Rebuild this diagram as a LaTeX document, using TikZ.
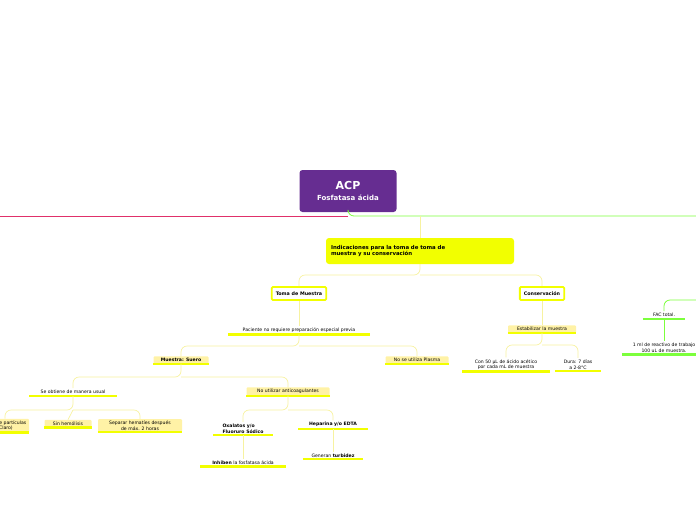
\documentclass[tikz,border=0pt]{standalone}
\usepackage{fontspec}
\setmainfont{DejaVu Sans}
\usetikzlibrary{positioning, calc}
\definecolor{rootpurple}{HTML}{662D91}
\definecolor{hiyellow}{HTML}{F2FF00}
\definecolor{paleyellow}{HTML}{FFF2A6}
\definecolor{linkyellow}{HTML}{F7F2A0}
\definecolor{linkgreen}{HTML}{7CFF3C}
\definecolor{linkred}{HTML}{E0306A}

\begin{document}
\begin{tikzpicture}[x=1pt, y=-1pt]
    % --- Style Definitions ---
    \tikzset{
        small text/.style={font=\fontsize{4.6}{5.6}\selectfont, align=center, inner sep=1.8pt},
        bold text/.style={font=\fontsize{4.6}{5.6}\selectfont\bfseries},
        under line/.style={
            small text,
            append after command={
                (\tikzlastnode.south west) edge[draw=#1, line width=2.4pt] (\tikzlastnode.south east)
            }
        },
        under line/.default=hiyellow,
        topic box/.style={small text, fill=paleyellow, rounded corners=1pt},
        main box/.style={small text, font=\fontsize{4.8}{5.8}\selectfont\bfseries,
            draw=hiyellow, line width=1.8pt, fill=white, rounded corners=1pt,
            minimum height=13pt, inner xsep=4pt},
        link/.style={draw=linkyellow, line width=0.7pt, rounded corners=6pt},
        green link/.style={draw=linkgreen, line width=0.8pt, rounded corners=6pt}
    }
    \useasboundingbox (0,0) rectangle (696,520);

    % ==========================================
    % ROOT
    % ==========================================
    \node[fill=rootpurple, rounded corners=3pt, minimum width=97pt, minimum height=42pt,
          text=white, align=center, font=\bfseries] (acp) at (348,191)
          {{\fontsize{11}{13}\selectfont ACP}\\[-1pt]{\fontsize{7}{9}\selectfont Fosfatasa ácida}};
    \coordinate (hub) at (348,216);
    \draw[linkred, line width=0.8pt] (hub) -- (0,216);
    \draw[green link] (acp.south) -- (hub) -- (696,216);

    % 1. Indicaciones
    \node[fill=hiyellow, rounded corners=3pt, minimum width=188pt, minimum height=26pt,
          text width=178pt, align=left, font=\fontsize{5.4}{6.4}\selectfont\bfseries]
          (indic) at (420,251) {Indicaciones para la toma de toma de\\muestra y su conservación};
    \draw[link] (420,216) -- (indic.north);

    % 2. Toma / Conservacion
    \node[main box] (toma) at (299,293.5) {Toma de Muestra};
    \node[main box] (cons) at (542,293.5) {Conservación};
    \draw[link] (indic.south) -- (420,275) -| (toma.north);
    \draw[link] (420,275) -| (cons.north);

    % 3. Toma de muestra branch
    \node[under line, minimum width=142pt] (paciente) at (299,330) {Paciente no requiere preparación especial previa};
    \draw[link] (toma.south) -- (paciente.north);

    \node[topic box, under line, bold text, minimum width=55pt] (suero) at (181,360) {Muestra: Suero};
    \node[topic box, under line, minimum width=63pt] (plasma) at (417,360) {No se utiliza Plasma};
    \draw[link] (paciente.south) -- (299,346) -| (suero.north);
    \draw[link] (299,346) -| (plasma.north);

    \node[under line, minimum width=87pt] (usual) at (73,392) {Se obtiene de manera usual};
    \node[topic box, under line, minimum width=83pt] (anticoag) at (288,391.5) {No utilizar anticoagulantes};
    \draw[link] (suero.south) -- (181,377) -| (usual.north);
    \draw[link] (181,377) -| (anticoag.north);

    \node[topic box, under line, minimum width=48pt] (claro) at (5,425.5) {Libre de partículas\\(Claro)};
    \node[topic box, under line, minimum width=47pt] (hemolisis) at (68,423.5) {Sin hemólisis};
    \node[topic box, under line, minimum width=84pt] (separar) at (140,425.5) {Separar hematíes después\\de máx. 2 horas};
    \draw[link] (usual.south) -- (73,410) -| (claro.north);
    \draw[link] (73,410) -- (hemolisis.north);
    \draw[link] (73,410) -| (separar.north);

    \node[under line, bold text, minimum width=59pt, align=left] (oxalatos) at (243,428.5) {Oxalatos y/o\\Fluoruro Sódico};
    \node[under line, bold text, minimum width=69pt] (heparina) at (333,424.5) {Heparina y/o EDTA};
    \draw[link] (anticoag.south) -- (288,410) -| (oxalatos.north);
    \draw[link] (288,410) -| (heparina.north);

    \node[under line, minimum width=85pt] (inhiben) at (243,462.5) {\textbf{Inhiben} la fosfatasa ácida};
    \node[under line, minimum width=60pt] (turbidez) at (333,455.5) {Generan \textbf{turbidez}};
    \draw[link] (oxalatos.south) -- (inhiben.north);
    \draw[link] (heparina.south) -- (turbidez.north);

    % 4. Conservacion branch
    \node[topic box, under line, minimum width=68pt] (estab) at (542,329) {Estabilizar la muestra};
    \draw[link] (cons.south) -- (estab.north);

    \node[under line, minimum width=87pt] (acetico) at (506,364.5) {Con 50 µL de ácido acético\\por cada mL de muestra};
    \node[under line, minimum width=46pt] (dura) at (578,364.5) {Dura: 7 días\\a 2-8°C};
    \draw[link] (estab.south) -- (542,345) -| (acetico.north);
    \draw[link] (542,345) -| (dura.north);

    % 5. Right side (cut off)
    \node[under line=linkgreen, minimum width=42pt] (fac) at (664,315) {FAC total.};
    \node[under line=linkgreen, minimum width=84pt] (reactivo) at (664,348) {1 ml de reactivo de trabajo\\100 uL de muestra.};
    \draw[green link] (696,300) -| (fac.north);
    \draw[green link] (fac.south) -- (reactivo.north);
\end{tikzpicture}
\end{document}
